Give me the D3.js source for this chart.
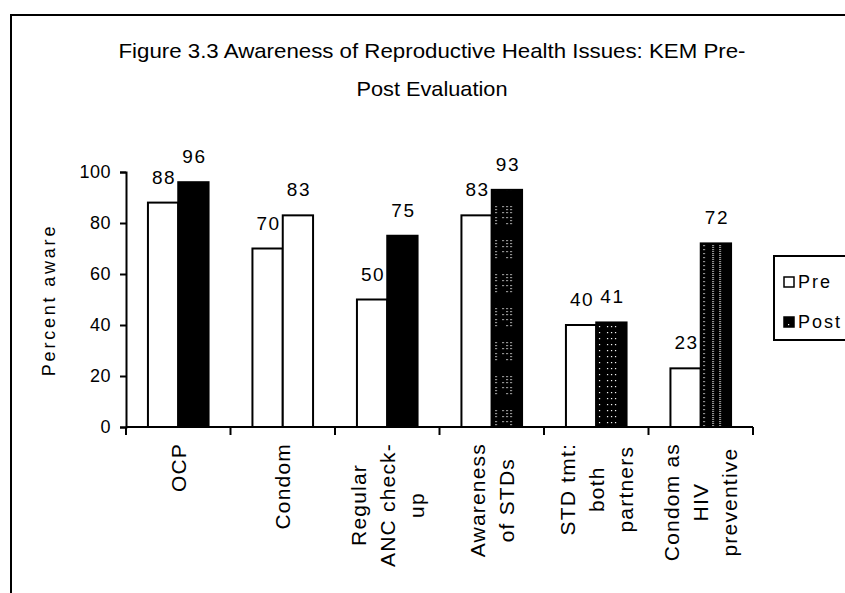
<!DOCTYPE html>
<html>
<head>
<meta charset="utf-8">
<script src="https://cdn.jsdelivr.net/npm/d3@7"></script>
<style>
  body { margin: 0; background: #fff; }
  svg { display: block; }
  text { font-family: "Liberation Sans", Arial, sans-serif; fill: #000; }
</style>
</head>
<body>
<svg id="chart" width="845" height="593"></svg>
<script>
// --- Data ---
const categories = ["OCP", "Condom", "Regular ANC", "Awareness of STDs", "STD tmt", "Condom HIV"];
const categoryLines = [
  ["OCP"],
  ["Condom"],
  ["Regular", "ANC check-", "up"],
  ["Awareness", "of STDs"],
  ["STD tmt:", "both", "partners"],
  ["Condom as", "HIV", "preventive"],
];
const seriesNames = ["Pre", "Post"];
const preValues = [88, 70, 50, 83, 40, 23];
const postValues = [96, 83, 75, 93, 41, 72];
const yTicks = [0, 20, 40, 60, 80, 100];
const titleLines = ["Figure 3.3 Awareness of Reproductive Health Issues: KEM Pre-", "Post Evaluation"];

const width = 845, height = 593;
const margin = { top: 172, right: 92, bottom: 166, left: 126 };

const svg = d3.select("#chart");

// fills for the Post bars (the original mixes solid, blank and dotted)
const postFill = ["#000", "#fff", "#000", "url(#dotsA)", "url(#dotsB)", "url(#dotsC)"];

// --- Patterns ---
const defs = svg.append("defs");
function dotPattern(id, w, h, dots) {
  const p = defs.append("pattern")
    .attr("id", id)
    .attr("patternUnits", "userSpaceOnUse")
    .attr("width", w)
    .attr("height", h);
  p.append("rect").attr("width", w).attr("height", h).attr("fill", "#000");
  dots.forEach(([x, y]) =>
    p.append("rect").attr("x", x).attr("y", y).attr("width", 1.2).attr("height", 1.2).attr("fill", "#fff"));
}
dotPattern("dotsA", 30, 34, [
  [4, 2], [4, 5], [4, 8], [11, 2], [11, 8], [15, 2], [15, 5], [15, 8], [19, 2], [19, 5], [19, 8],
  [4, 13], [4, 16], [4, 19], [11, 13], [15, 13], [15, 19], [19, 13], [19, 16], [19, 19],
]);
dotPattern("dotsB", 30, 6, [[3, 2], [11, 2], [15, 2], [19, 2]]);
dotPattern("dotsC", 30, 4, [[3, 1], [12, 1], [12, 3], [19, 1], [19, 3]]);

// --- Frame ---
svg.append("path")
  .attr("d", `M11,${height} V15 H${width}`)
  .attr("fill", "none")
  .attr("stroke", "#000")
  .attr("stroke-width", 2);

// --- Title ---
svg.append("g")
  .selectAll("text")
  .data(titleLines)
  .join("text")
  .attr("x", 432)
  .attr("y", (d, i) => 58 + i * 38)
  .attr("text-anchor", "middle")
  .attr("font-size", 21)
  .attr("textLength", (d, i) => (i === 0 ? 627 : 151))
  .attr("lengthAdjust", "spacingAndGlyphs")
  .text((d) => d);

// --- Scales ---
const x0 = d3.scaleBand()
  .domain(categories)
  .range([margin.left, width - margin.right])
  .paddingInner(0.42)
  .paddingOuter(0.21);
const x1 = d3.scaleBand()
  .domain(seriesNames)
  .range([0, x0.bandwidth()]);
const y = d3.scaleLinear()
  .domain([0, 100])
  .range([height - margin.bottom, margin.top]);

const rows = categories.map((c, i) => ({ cat: c, i, Pre: preValues[i], Post: postValues[i] }));

// --- Bars ---
const groups = svg.append("g")
  .selectAll("g")
  .data(rows)
  .join("g")
  .attr("transform", (d) => `translate(${x0(d.cat)},0)`);

groups.selectAll("rect")
  .data((d) => seriesNames.map((s) => ({ s, v: d[s], i: d.i })))
  .join("rect")
  .attr("x", (d) => x1(d.s))
  .attr("y", (d) => y(d.v))
  .attr("width", x1.bandwidth())
  .attr("height", (d) => y(0) - y(d.v))
  .attr("fill", (d) => (d.s === "Pre" ? "#fff" : postFill[d.i]))
  .attr("stroke", "#000")
  .attr("stroke-width", 2);

// value labels
groups.selectAll("text")
  .data((d) => seriesNames.map((s) => ({ s, v: d[s] })))
  .join("text")
  .attr("x", (d) => x1(d.s) + x1.bandwidth() / 2 + 1)
  .attr("y", (d) => y(d.v) - 19)
  .attr("text-anchor", "middle")
  .attr("font-size", 19)
  .attr("letter-spacing", 1.5)
  .text((d) => d.v);

// --- Axes ---
const yAxis = svg.append("g")
  .attr("transform", `translate(${margin.left},0)`)
  .call(d3.axisLeft(y).tickValues(yTicks).tickSize(6).tickPadding(9).tickFormat(d3.format("d")));
yAxis.select(".domain").attr("stroke-width", 2);
yAxis.selectAll(".tick line").attr("stroke-width", 2);
yAxis.selectAll(".tick text")
  .attr("font-size", 18)
  .attr("font-family", "Liberation Sans, Arial, sans-serif")
  .attr("letter-spacing", 0.5);

const xAxis = svg.append("g")
  .attr("transform", `translate(0,${y(0)})`);
xAxis.append("line")
  .attr("x1", x0.range()[0])
  .attr("x2", x0.range()[1])
  .attr("stroke", "#000")
  .attr("stroke-width", 2);
const step = x0.step();
xAxis.selectAll("line.tick")
  .data(d3.range(categories.length + 1))
  .join("line")
  .attr("class", "tick")
  .attr("x1", (d) => x0.range()[0] + d * step)
  .attr("x2", (d) => x0.range()[0] + d * step)
  .attr("y1", 0)
  .attr("y2", 8)
  .attr("stroke", "#000")
  .attr("stroke-width", 2);

// category labels, rotated, lines centred on the category
const labelGroups = svg.append("g")
  .selectAll("g")
  .data(categoryLines)
  .join("g");

labelGroups.each(function (lines, ci) {
  const g = d3.select(this);
  const cx = x0(categories[ci]) + x0.bandwidth() / 2;
  const texts = g.selectAll("text")
    .data(lines)
    .join("text")
    .attr("font-size", 21)
    .attr("letter-spacing", 1.2)
    .attr("text-anchor", "middle")
    .attr("dy", "0.35em")
    .text((d) => d);
  const longest = d3.max(texts.nodes(), (n) => n.getComputedTextLength());
  const cy = y(0) + 16 + longest / 2;
  texts.attr("transform", (d, i) =>
    `translate(${cx + (i - (lines.length - 1) / 2) * 29},${cy}) rotate(-90)`);
});

// y axis title
svg.append("text")
  .attr("transform", `translate(49,300) rotate(-90)`)
  .attr("text-anchor", "middle")
  .attr("dy", "0.35em")
  .attr("font-size", 18)
  .attr("letter-spacing", 2.8)
  .text("Percent aware");

// --- Legend ---
const legend = svg.append("g").attr("transform", "translate(774,256)");
legend.append("rect")
  .attr("width", 90)
  .attr("height", 84)
  .attr("fill", "#fff")
  .attr("stroke", "#000")
  .attr("stroke-width", 2);
const legendFill = ["#fff", "url(#dotsA)"];
const items = legend.selectAll("g.item")
  .data(seriesNames)
  .join("g")
  .attr("class", "item")
  .attr("transform", (d, i) => `translate(10,${26 + i * 40})`);
items.append("rect")
  .attr("x", 0)
  .attr("y", -5)
  .attr("width", 10)
  .attr("height", 10)
  .attr("fill", (d, i) => legendFill[i])
  .attr("stroke", "#000")
  .attr("stroke-width", 1.5);
items.append("text")
  .attr("x", 14)
  .attr("dy", "0.35em")
  .attr("font-size", 18)
  .attr("letter-spacing", 2)
  .text((d) => d);
</script>
</body>
</html>
